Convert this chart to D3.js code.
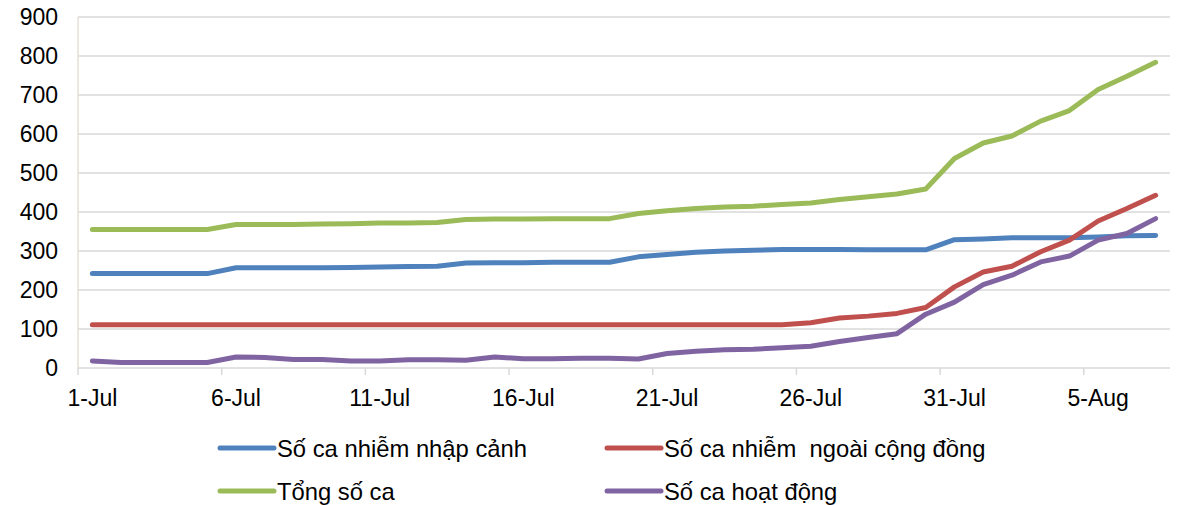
<!DOCTYPE html>
<html>
<head>
<meta charset="utf-8">
<script src="https://cdn.jsdelivr.net/npm/d3@7"></script>
<style>
  body { margin: 0; background: #fff; }
  text { font-family: Arial, "Liberation Sans", sans-serif; fill: #000; }
</style>
</head>
<body>
<div id="chart"></div>
<script>
var width = 1178, height = 505;

// categories: 1-Jul .. 7-Aug
var days = ["1-Jul","2-Jul","3-Jul","4-Jul","5-Jul","6-Jul","7-Jul","8-Jul","9-Jul","10-Jul",
  "11-Jul","12-Jul","13-Jul","14-Jul","15-Jul","16-Jul","17-Jul","18-Jul","19-Jul","20-Jul",
  "21-Jul","22-Jul","23-Jul","24-Jul","25-Jul","26-Jul","27-Jul","28-Jul","29-Jul","30-Jul",
  "31-Jul","1-Aug","2-Aug","3-Aug","4-Aug","5-Aug","6-Aug","7-Aug"];

var nhapCanh = [242,242,242,242,242,257,257,257,257,258,259,260,261,269,270,270,271,271,271,285,
  291,297,300,302,304,304,304,303,303,303,329,331,334,334,334,336,339,340];
var congDong = [111,111,111,111,111,111,111,111,111,111,111,111,111,111,111,111,111,111,111,111,
  111,111,111,111,111,116,128,133,140,155,208,246,261,298,328,377,409,443];
var tong = [355,355,355,355,355,368,368,368,369,370,372,372,373,381,382,382,383,383,383,396,
  403,409,413,415,419,423,432,439,446,459,537,577,595,633,660,714,748,784];
var hoatDong = [18,14,14,14,14,28,27,22,22,18,18,21,21,20,28,24,24,25,25,23,
  37,43,47,48,52,56,68,78,88,138,169,214,238,272,287,328,345,383];

var yTicks = [0,100,200,300,400,500,600,700,800,900];

var series = [
  {name: "Số ca nhiễm nhập cảnh", values: nhapCanh, color: "#4F81BD"},
  {name: "Số ca nhiễm  ngoài cộng đồng", values: congDong, color: "#C0504D"},
  {name: "Tổng số ca", values: tong, color: "#9BBB59"},
  {name: "Số ca hoạt động", values: hoatDong, color: "#8064A2"}
];

var margin = {left: 78, right: 8, top: 17, bottom: 137};

var x = d3.scaleBand().domain(days).range([margin.left, width - margin.right]);
var y = d3.scaleLinear().domain([0, 900]).range([height - margin.bottom, margin.top]);

var svg = d3.select("#chart").append("svg")
  .attr("width", width)
  .attr("height", height);

// gridlines
svg.append("g").selectAll("line").data(yTicks.slice(1)).enter().append("line")
  .attr("x1", margin.left).attr("x2", width - margin.right)
  .attr("y1", d => y(d)).attr("y2", d => y(d))
  .attr("stroke", "#d9d9d9").attr("stroke-width", 1.5);

// y axis line
svg.append("line")
  .attr("x1", margin.left).attr("x2", margin.left)
  .attr("y1", y(900)).attr("y2", y(0))
  .attr("stroke", "#e4e1d4").attr("stroke-width", 1.5);

// y labels
svg.append("g").selectAll("text").data(yTicks).enter().append("text")
  .attr("x", 58).attr("y", d => y(d)).attr("dy", "0.36em")
  .attr("text-anchor", "end")
  .style("font-size", "23px")
  .text(d => d);

// x axis
svg.append("line")
  .attr("x1", margin.left).attr("x2", width - margin.right)
  .attr("y1", y(0)).attr("y2", y(0))
  .attr("stroke", "#d9d9d9").attr("stroke-width", 1.5);

var tickDays = days.filter((d, i) => i % 5 === 0);
svg.append("g").selectAll("line").data(tickDays).enter().append("line")
  .attr("x1", d => x(d)).attr("x2", d => x(d))
  .attr("y1", y(0)).attr("y2", y(0) + 7)
  .attr("stroke", "#d9d9d9").attr("stroke-width", 1.5);

svg.append("g").selectAll("text").data(tickDays).enter().append("text")
  .attr("x", d => x(d) + x.bandwidth() / 2)
  .attr("y", y(0) + 38)
  .attr("text-anchor", "middle")
  .style("font-size", "23px")
  .text(d => d);

// lines
var line = d3.line()
  .x((d, i) => x(days[i]) + x.bandwidth() / 2)
  .y(d => y(d));

svg.append("g").selectAll("path").data(series).enter().append("path")
  .attr("d", d => line(d.values))
  .attr("fill", "none")
  .attr("stroke", d => d.color)
  .attr("stroke-width", 5)
  .attr("stroke-linejoin", "round")
  .attr("stroke-linecap", "round");

// legend
var legendPos = [[220, 448], [607, 448], [220, 491], [607, 491]];
var leg = svg.append("g").selectAll("g").data(series).enter().append("g")
  .attr("transform", (d, i) => "translate(" + legendPos[i][0] + "," + legendPos[i][1] + ")");
leg.append("line")
  .attr("x1", 0).attr("x2", 54)
  .attr("stroke", d => d.color)
  .attr("stroke-width", 5)
  .attr("stroke-linecap", "round");
leg.append("text")
  .attr("x", 57).attr("dy", "0.36em")
  .style("font-size", "23.8px")
  .style("white-space", "pre")
  .text(d => d.name);
</script>
</body>
</html>
